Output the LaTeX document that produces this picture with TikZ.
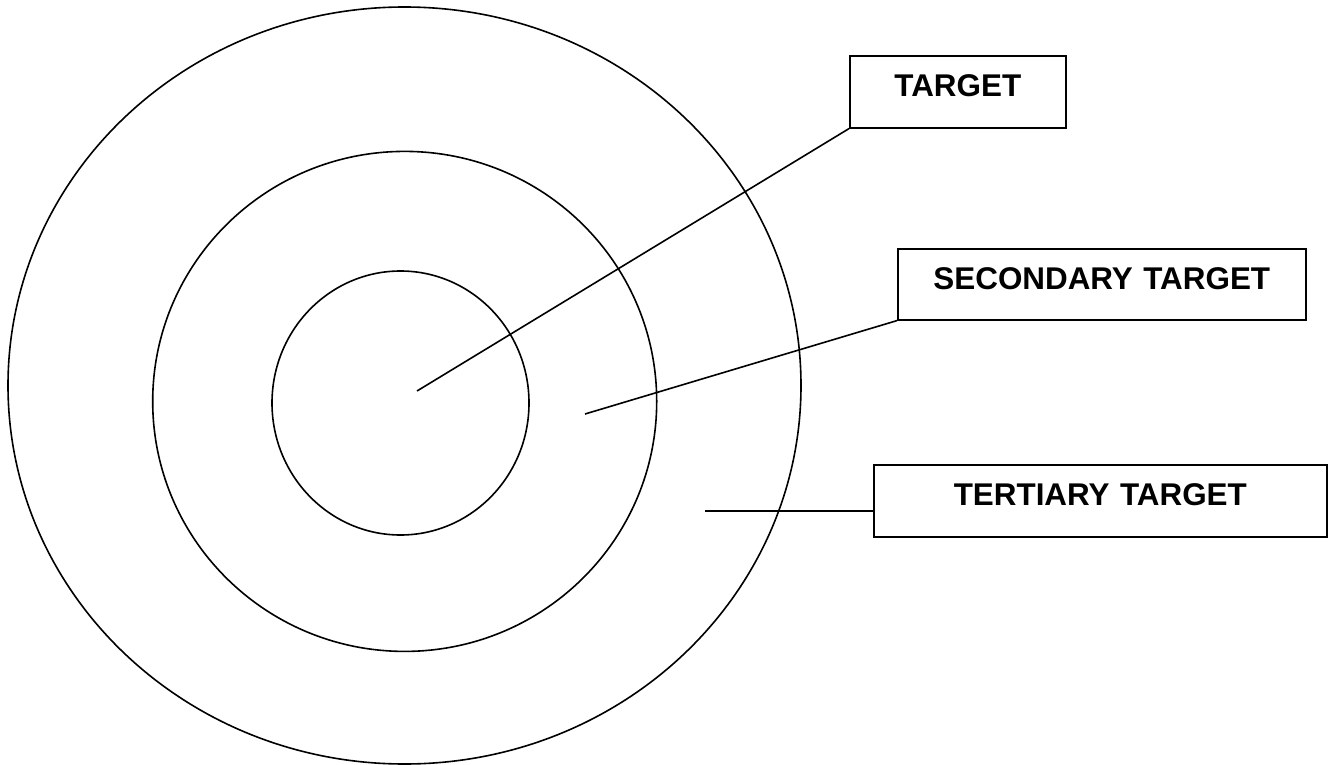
\documentclass[tikz,border=0pt]{standalone}
\usepackage{fontspec}
\setmainfont{Liberation Sans}
\begin{document}
\begin{tikzpicture}[x=1pt,y=-1pt,
  ring/.style={draw=black,line width=1.6pt},
  link/.style={draw=black,line width=1.6pt},
  labelbox/.style={draw=black,line width=1.6pt,anchor=north west,inner sep=0pt,
    align=center,font=\fontsize{31.4}{36}\selectfont\bfseries,text height=41pt}]
\useasboundingbox (0,0) rectangle (1336,765);

% concentric target rings
\draw[ring] (404.5,385.5) ellipse [x radius=396.5, y radius=378.5];
\draw[ring] (404.7,401.4) ellipse [x radius=252, y radius=250];
\draw[ring] (400.5,403) ellipse [x radius=128.5, y radius=132];

% label boxes
\node[labelbox,text width=216pt,text depth=31pt] (tgt) at (849,55) {TARGET};
\node[labelbox,text width=408pt,text depth=30pt] (sec) at (897,248) {SECONDARY TARGET};
\node[labelbox,text width=453pt,text depth=31pt] (ter) at (873,464) {TERTIARY TARGET};

% pointer ends inside the rings
\coordinate (ptgt) at (417,391);
\coordinate (psec) at (585,414);
\coordinate (pter) at (705,511);

\draw[link] (ptgt) -- (tgt.south west);
\draw[link] (psec) -- (sec.south west);
\draw[link] (pter) -- (pter -| ter.west);
\end{tikzpicture}
\end{document}
